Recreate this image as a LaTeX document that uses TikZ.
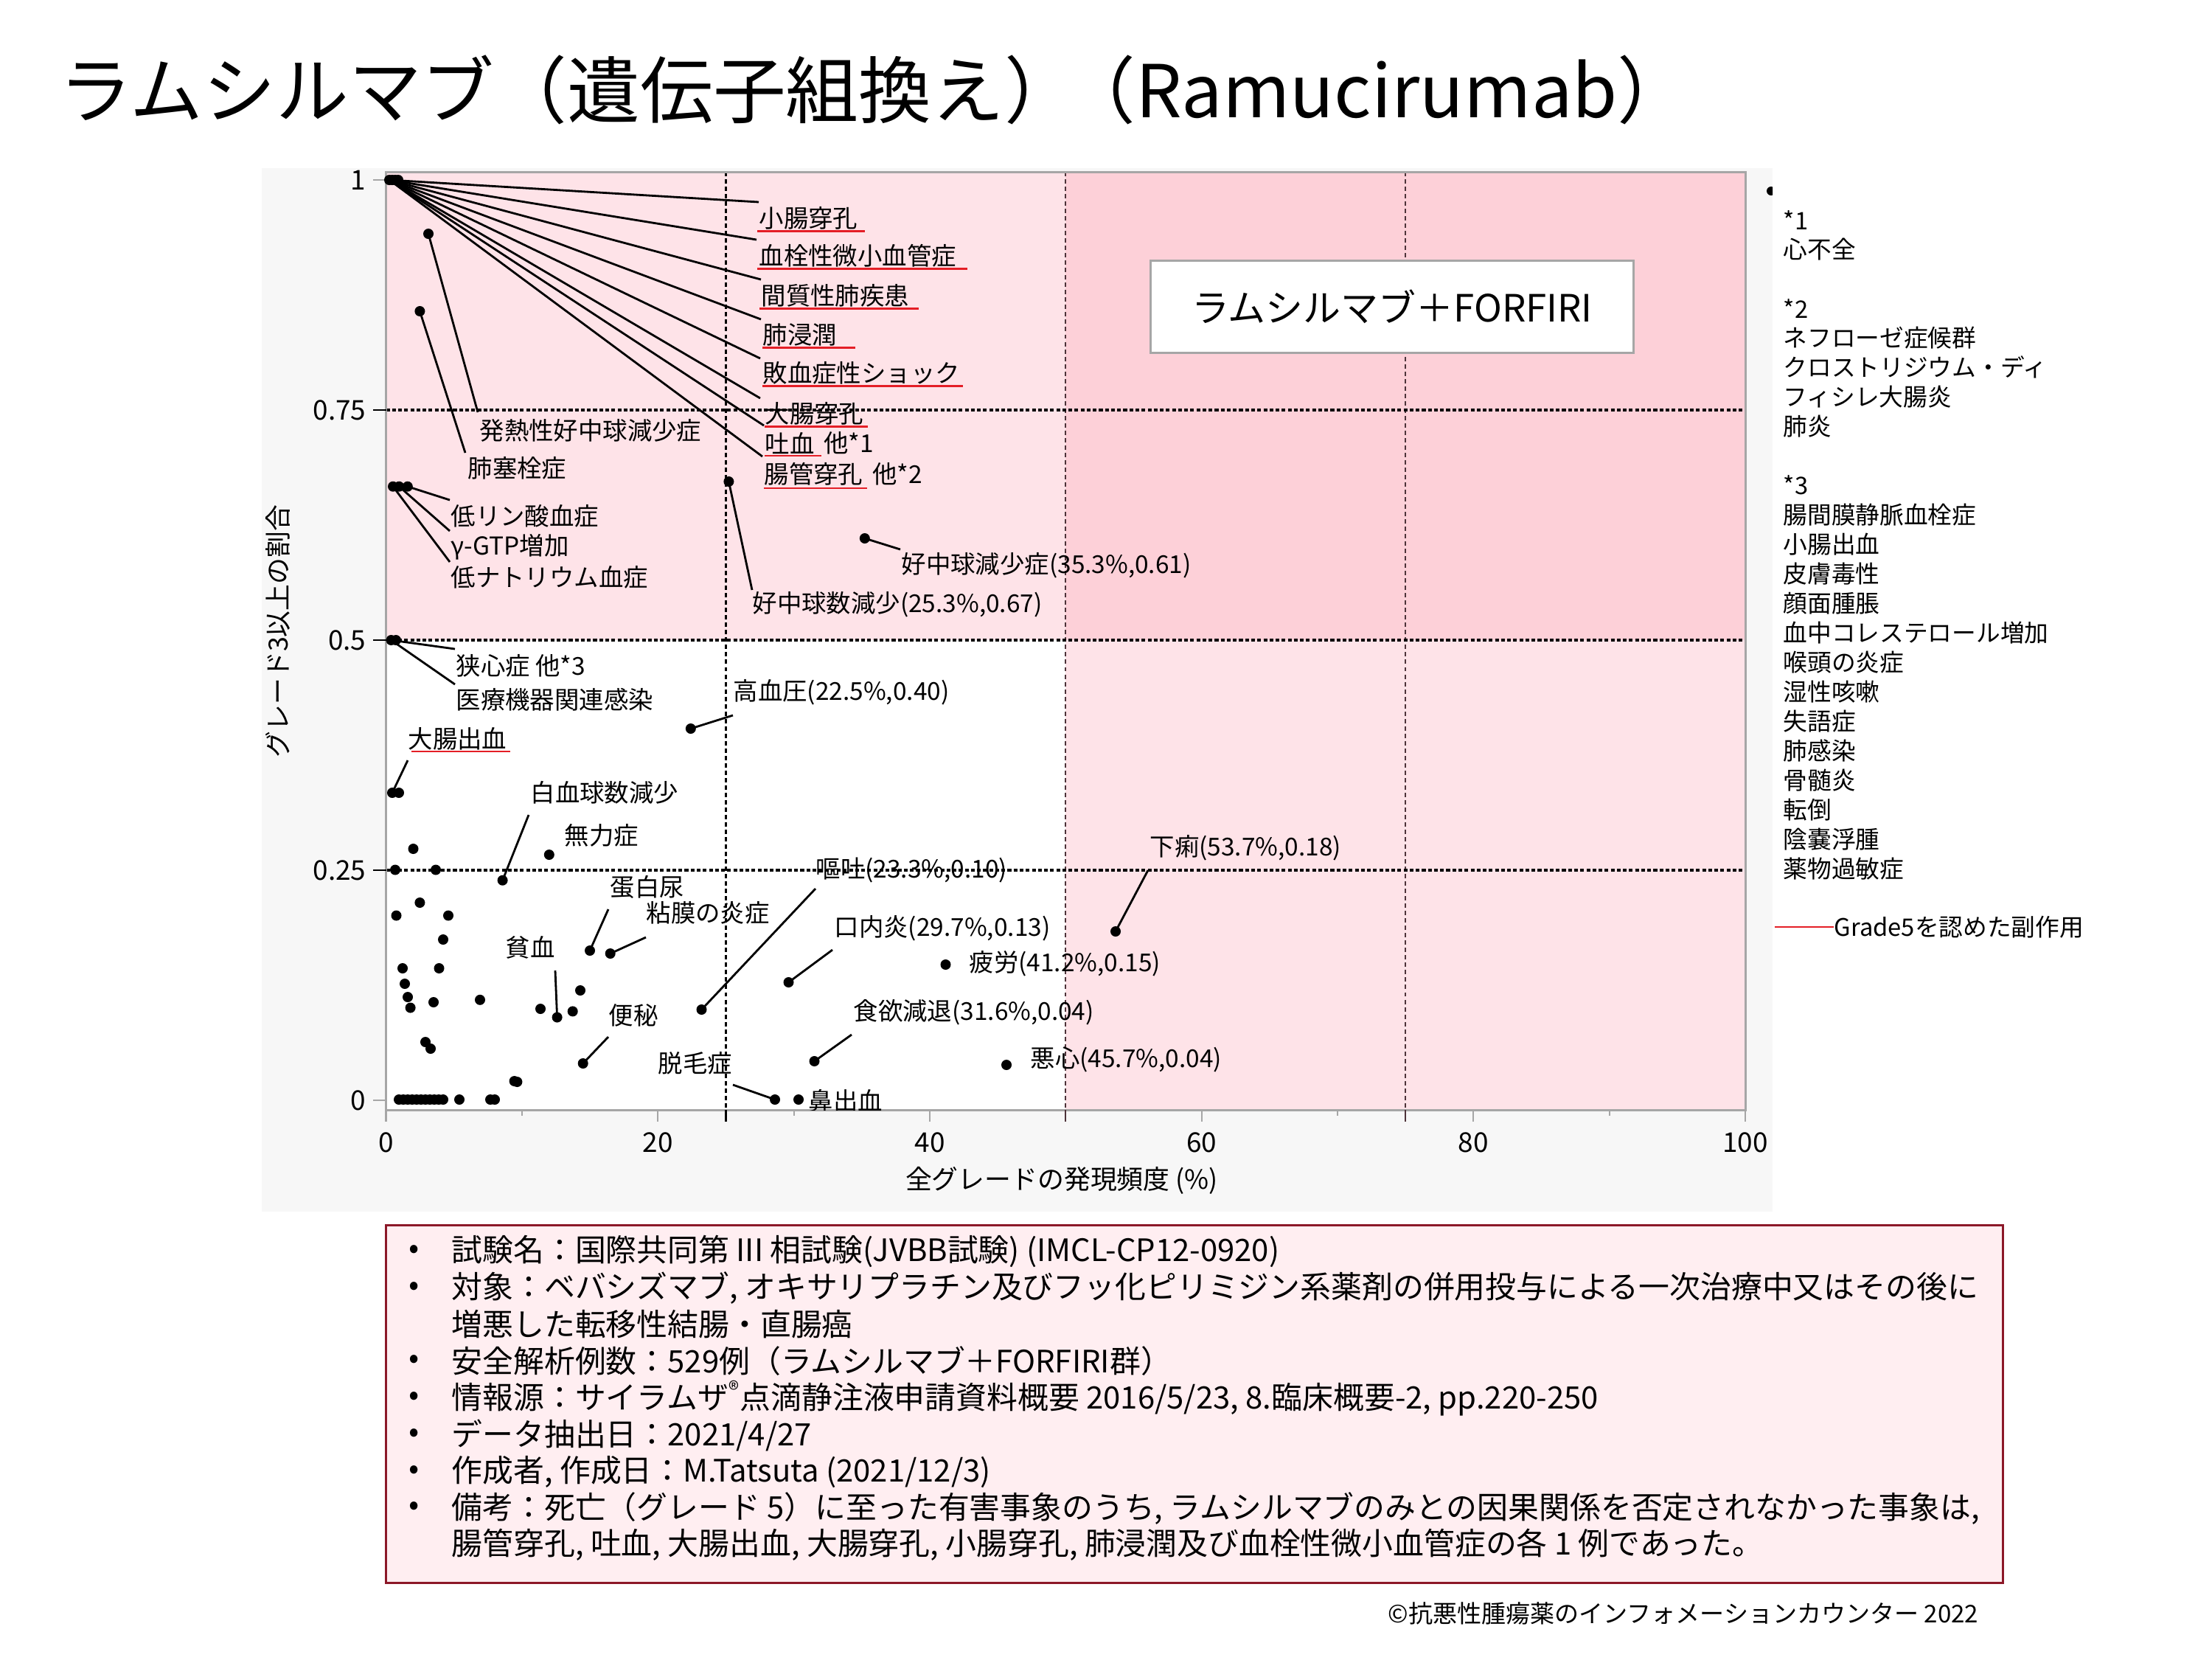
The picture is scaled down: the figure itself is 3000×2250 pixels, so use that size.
\documentclass[tikz,border=0pt]{standalone}
\usepackage{fontspec}
\setmainfont{Noto Sans CJK JP}
\newcommand\myfs[2]{\fontsize{#1}{#2}\selectfont}
\definecolor{panelgray}{RGB}{247,247,247}
\definecolor{pinkA}{RGB}{254,227,232}
\definecolor{pinkB}{RGB}{253,208,216}
\definecolor{framegray}{RGB}{166,166,166}
\definecolor{boxred}{RGB}{140,24,40}
\definecolor{boxfill}{RGB}{255,238,241}
\definecolor{ulred}{RGB}{228,30,38}
\definecolor{refdark}{RGB}{78,52,58}
\begin{document}
\begin{tikzpicture}[x=0.01cm,y=-0.01cm,
  lbl/.style={anchor=west,inner sep=0pt,font=\myfs{9.5}{11}},
  dot/.style={circle,fill=black,draw=none,inner sep=0pt,minimum size=0.14cm},
  conn/.style={line width=0.8pt,black},
  uline/.style={ulred,line width=0.7pt},
  refv/.style={line width=0.65pt,dash pattern=on 1.7pt off 1.15pt},
  refh/.style={line width=0.9pt,black,dash pattern=on 1.45pt off 0.9pt},
  tickg/.style={framegray,line width=0.6pt},
  ticklbl/.style={inner sep=0pt,font=\myfs{10.5}{12}},
  leg/.style={anchor=west,inner sep=0pt,font=\myfs{9.3}{11}},
  boxtxt/.style={anchor=west,inner sep=0pt,font=\myfs{11.9}{14}},
  bul/.style={inner sep=0pt,font=\myfs{11.9}{14}}]
\useasboundingbox (0,0) rectangle (3000,2250);
\fill[white] (0,0) rectangle (3000,2250);
% panel and regions
\fill[panelgray] (355,228) rectangle (2404,1643);
\fill[white] (523.5,233) rectangle (2367,1505);
\fill[pinkA] (523.5,233) rectangle (1445.3,868);
\fill[pinkA] (1445.3,868) rectangle (2367,1505);
\fill[pinkB] (1445.3,233) rectangle (2367,868);
% reference lines
\draw[refv,black] (984.4,233) -- (984.4,1505);
\draw[refv,refdark] (1445.3,233) -- (1445.3,1505);
\draw[refv,refdark] (1906,233) -- (1906,1505);
\draw[refh] (523.5,556) -- (2367,556);
\draw[refh] (523.5,868) -- (2367,868);
\draw[refh] (523.5,1180) -- (2367,1180);
% frame
\draw[framegray,line width=0.85pt] (523.5,233) rectangle (2367,1505);
% ticks
\draw[tickg] (506,244) -- (523.5,244);
\draw[tickg] (506,1492) -- (523.5,1492);
\foreach \yy in {556,868,1180} \draw[black,line width=0.8pt] (506,\yy) -- (523.5,\yy);
\foreach \xx in {523.5,892.2,1261,1629.6,1998.3,2367} \draw[tickg] (\xx,1505) -- (\xx,1521);
\foreach \xx in {707.9,1076.6,1813.9,2182.6} \draw[tickg] (\xx,1505) -- (\xx,1513);
\draw[black,line width=0.65pt] (984.4,1505) -- (984.4,1521);
\draw[refdark,line width=0.65pt] (1445.3,1505) -- (1445.3,1521);
\draw[refdark,line width=0.65pt] (1906,1505) -- (1906,1521);
\node[ticklbl,anchor=east] (ty1) at (497,244) {1};
\node[ticklbl,anchor=east] (ty2) at (497,556) {0.75};
\node[ticklbl,anchor=east] (ty3) at (497,868) {0.5};
\node[ticklbl,anchor=east] (ty4) at (497,1180) {0.25};
\node[ticklbl,anchor=east] (ty5) at (497,1492) {0};
\node[ticklbl] (tx1) at (523.5,1549) {0};
\node[ticklbl] (tx2) at (892.2,1549) {20};
\node[ticklbl] (tx3) at (1261,1549) {40};
\node[ticklbl] (tx4) at (1629.6,1549) {60};
\node[ticklbl] (tx5) at (1998.3,1549) {80};
\node[ticklbl] (tx6) at (2367,1549) {100};
\node[inner sep=0pt,font=\myfs{10.2}{12}] (xtitle) at (1440,1601) {全グレードの発現頻度 (\%)};
\node[inner sep=0pt,font=\myfs{10.2}{12},rotate=90] (ytitle) at (377,856) {グレード3以上の割合};
% unlabeled dots
\foreach \xx/\yy [count=\i] in {532/244,536/244,540/244,
  541.3/659.7,552.8/659.7,537/868,541/1075,
  560.5/1151,536/1179.5,591/1179.5,569.4/1224,537.5/1241.5,608/1241.5,601/1274,
  546/1313,595.5/1313,549/1334,553/1352,556.6/1366.5,588/1359,651/1355.8,
  787/1343,733/1368,776.7/1371.4,577/1413,584/1422,697.6/1466,701.4/1467,
  541/1491,547/1491,553/1491,559/1491,565/1491,571/1491,577/1491,583/1491,589/1491,595/1491,601/1491,
  623/1491,665/1491,671/1491}
  \node[dot] (q\i) at (\xx,\yy) {};
% connected dots
\node[dot] (p1) at (528,244) {};
\node[dot] (pFN) at (581,317) {};
\node[dot] (pPE) at (569.4,422) {};
\node[dot] (pL) at (533,659.7) {};
\node[dot] (pNC) at (988.4,653) {};
\node[dot] (pNP) at (1172.8,730) {};
\node[dot] (p5) at (530.5,868) {};
\node[dot] (pLB) at (532,1075) {};
\node[dot] (pHT) at (936.8,988) {};
\node[dot] (pWB) at (681.6,1193.7) {};
\node[dot] (pAS) at (744.8,1159) {};
\node[dot] (pPR) at (800,1289) {};
\node[dot] (pMU) at (827.7,1293) {};
\node[dot] (pAN) at (755.6,1379.5) {};
\node[dot] (pCO) at (790.7,1442) {};
\node[dot] (pAL) at (1051,1491) {};
\node[dot] (pEP) at (1083,1491) {};
\node[dot] (pVO) at (951.5,1369) {};
\node[dot] (pST) at (1069.5,1332) {};
\node[dot] (pAP) at (1104.5,1439) {};
\node[dot] (pFA) at (1282.5,1308) {};
\node[dot] (pNA) at (1365,1444) {};
\node[dot] (pDI) at (1513,1263) {};
% connector ends
\coordinate (e1) at (1029,274);
\coordinate (e2) at (1026,325);
\coordinate (e3) at (1032,379);
\coordinate (e4) at (1032,433);
\coordinate (e5) at (1031,486);
\coordinate (e6) at (1031,540);
\coordinate (e7) at (1036,577);
\coordinate (e8) at (1034,619);
\coordinate (eFN) at (648,559);
\coordinate (ePE) at (631,614);
\coordinate (eL1) at (610,678);
\coordinate (eL2) at (610,720);
\coordinate (eL3) at (610,762);
\coordinate (eNC) at (1020,800);
\coordinate (eNP) at (1221,745);
\coordinate (e51) at (617,880);
\coordinate (e52) at (617,928);
\coordinate (eLB) at (553,1031);
\coordinate (eHT) at (994,970);
\coordinate (eWB) at (717,1105);
\coordinate (ePR) at (825,1233);
\coordinate (eMU) at (876,1271);
\coordinate (eAN) at (753,1316);
\coordinate (eCO) at (825,1406);
\coordinate (eAL) at (994,1471);
\coordinate (eVO) at (1106,1205);
\coordinate (eST) at (1129,1288);
\coordinate (eAP) at (1155,1403);
\coordinate (eDI) at (1557,1180);
\foreach \e in {e1,e2,e3,e4,e5,e6,e7,e8} \draw[conn] (p1.center) -- (\e);
\draw[conn] (pFN.center) -- (eFN);
\draw[conn] (pPE.center) -- (ePE);
\draw[conn] (q5.center) -- (eL1);
\draw[conn] (q4.center) -- (eL2);
\draw[conn] (pL.center) -- (eL3);
\draw[conn] (pNC.center) -- (eNC);
\draw[conn] (pNP.center) -- (eNP);
\draw[conn] (p5.center) -- (e51);
\draw[conn] (p5.center) -- (e52);
\draw[conn] (pLB.center) -- (eLB);
\draw[conn] (pHT.center) -- (eHT);
\draw[conn] (pWB.center) -- (eWB);
\draw[conn] (pPR.center) -- (ePR);
\draw[conn] (pMU.center) -- (eMU);
\draw[conn] (pAN.center) -- (eAN);
\draw[conn] (pCO.center) -- (eCO);
\draw[conn] (pAL.center) -- (eAL);
\draw[conn] (pVO.center) -- (eVO);
\draw[conn] (pST.center) -- (eST);
\draw[conn] (pAP.center) -- (eAP);
\draw[conn] (pDI.center) -- (eDI);
% labels
\node[lbl] (l1) at (1029,296) {小腸穿孔};
\node[lbl] (l2) at (1029,347) {血栓性微小血管症};
\node[lbl] (l3) at (1032,401) {間質性肺疾患};
\node[lbl] (l4) at (1034,454) {肺浸潤};
\node[lbl] (l5) at (1034,506) {敗血症性ショック};
\node[lbl] (l6) at (1037,561) {大腸穿孔};
\node[lbl] (l7) at (1037,601) {吐血};
\node[lbl] (l7b) at ([xshift=3.2pt]l7.east) {他*1};
\node[lbl] (l8) at (1036,643) {腸管穿孔};
\node[lbl] (l8b) at ([xshift=3.2pt]l8.east) {他*2};
\draw[uline] ([xshift=-0.5pt,yshift=-0.4pt]l1.south west) -- ([xshift=2.5pt,yshift=-0.4pt]l1.south east);
\draw[uline] ([xshift=-0.5pt,yshift=-0.4pt]l2.south west) -- ([xshift=4pt,yshift=-0.4pt]l2.south east);
\draw[uline] ([xshift=-0.5pt,yshift=-0.4pt]l3.south west) -- ([xshift=3.5pt,yshift=-0.4pt]l3.south east);
\draw[uline] ([xshift=0pt,yshift=-0.4pt]l4.south west) -- ([xshift=7pt,yshift=-0.4pt]l4.south east);
\draw[uline] ([xshift=0pt,yshift=-0.4pt]l5.south west) -- ([xshift=1pt,yshift=-0.4pt]l5.south east);
\draw[uline] ([xshift=0pt,yshift=-0.4pt]l6.south west) -- ([xshift=1.5pt,yshift=-0.4pt]l6.south east);
\draw[uline] ([xshift=0pt,yshift=-0.4pt]l7.south west) -- ([xshift=2.5pt,yshift=-0.4pt]l7.south east);
\draw[uline] ([xshift=0pt,yshift=-0.8pt]l8.south west) -- ([xshift=1.5pt,yshift=-0.8pt]l8.south east);
\node[lbl] (lFN) at (650,584) {発熱性好中球減少症};
\node[lbl] (lPE) at (634,635) {肺塞栓症};
\node[lbl] (lL1) at (611,700) {低リン酸血症};
\node[lbl] (lL2) at (611,742) {γ-GTP増加};
\node[lbl] (lL3) at (611,783) {低ナトリウム血症};
\node[lbl] (lNC) at (1020,820) {好中球数減少(25.3\%,0.67)};
\node[lbl] (lNP) at (1222,767) {好中球減少症(35.3\%,0.61)};
\node[lbl] (l51) at (618,903) {狭心症 他*3};
\node[lbl] (l52) at (618,949) {医療機器関連感染};
\node[lbl] (lLB) at (553,1002) {大腸出血};
\draw[uline] ([xshift=1.5pt,yshift=-0.2pt]lLB.south west) -- ([xshift=1pt,yshift=-0.2pt]lLB.south east);
\node[lbl] (lHT) at (994,939) {高血圧(22.5\%,0.40)};
\node[lbl] (lWB) at (719,1075) {白血球数減少};
\node[lbl] (lAS) at (765,1133) {無力症};
\node[lbl] (lPR) at (827,1203) {蛋白尿};
\node[lbl] (lMU) at (876,1238) {粘膜の炎症};
\node[lbl] (lAN) at (685,1285) {貧血};
\node[lbl] (lCO) at (825,1377) {便秘};
\node[lbl] (lAL) at (892,1442) {脱毛症};
\begin{scope}
\clip (523.5,233) rectangle (2367,1505);
\node[lbl] (lEP) at (1096,1493) {鼻出血};
\end{scope}
\node[lbl] (lVO) at (1106,1180) {嘔吐(23.3\%,0.10)};
\node[lbl] (lST) at (1131,1259) {口内炎(29.7\%,0.13)};
\node[lbl] (lAP) at (1157,1373) {食欲減退(31.6\%,0.04)};
\node[lbl] (lFA) at (1314,1307) {疲労(41.2\%,0.15)};
\node[lbl] (lNA) at (1397,1437) {悪心(45.7\%,0.04)};
\node[lbl] (lDI) at (1559,1150) {下痢(53.7\%,0.18)};
% FORFIRI box
\node[draw=framegray,fill=white,line width=0.85pt,minimum width=6.55cm,minimum height=1.24cm,inner sep=0pt,font=\myfs{14.5}{17}] (arm) at (1888,416) {ラムシルマブ＋FORFIRI};
% legend
\begin{scope}
\clip (355,228) rectangle (2404,1643);
\node[dot,minimum size=0.12cm] (legdot) at (2402,259) {};
\end{scope}
\foreach \i/\t in {0/*1,1/心不全,3/*2,4/ネフローゼ症候群,5/クロストリジウム・ディ,6/フィシレ大腸炎,7/肺炎,
  9/*3,10/腸間膜静脈血栓症,11/小腸出血,12/皮膚毒性,13/顔面腫脹,14/血中コレステロール増加,15/喉頭の炎症,
  16/湿性咳嗽,17/失語症,18/肺感染,19/骨髄炎,20/転倒,21/陰嚢浮腫,22/薬物過敏症}
  \node[leg] (leg\i) at (2418,298+40*\i) {\t};
\coordinate (gl) at (2407,1257);
\node[leg] (g5) at (2487,1257) {Grade5を認めた副作用};
\draw[ulred,line width=0.6pt] (gl) -- (g5.west);
% bottom box
\node[draw=boxred,fill=boxfill,line width=0.9pt,minimum width=21.92cm,minimum height=4.84cm,inner sep=0pt] (info) at (1620,1904) {};
\foreach \i/\yy in {1/1697,2/1747,4/1846,5/1896,6/1946,7/1996,8/2045}
  \node[bul] (u\i) at (562,\yy) {•};
\node[boxtxt] (b1) at (612,1697) {試験名：国際共同第 III 相試験(JVBB試験) (IMCL-CP12-0920)};
\node[boxtxt] (b2) at (612,1747) {対象：ベバシズマブ, オキサリプラチン及びフッ化ピリミジン系薬剤の併用投与による一次治療中又はその後に};
\node[boxtxt] (b3) at (612,1796) {増悪した転移性結腸・直腸癌};
\node[boxtxt] (b4) at (612,1846) {安全解析例数：529例（ラムシルマブ＋FORFIRI群）};
\node[boxtxt] (b5) at (612,1896) {情報源：サイラムザ\textsuperscript{®}点滴静注液申請資料概要 2016/5/23, 8.臨床概要-2, pp.220-250};
\node[boxtxt] (b6) at (612,1946) {データ抽出日：2021/4/27};
\node[boxtxt] (b7) at (612,1996) {作成者, 作成日：M.Tatsuta (2021/12/3)};
\node[boxtxt] (b8) at (612,2045) {備考：死亡（グレード 5）に至った有害事象のうち, ラムシルマブのみとの因果関係を否定されなかった事象は,};
\node[boxtxt] (b9) at (612,2095) {腸管穿孔, 吐血, 大腸出血, 大腸穿孔, 小腸穿孔, 肺浸潤及び血栓性微小血管症の各 1 例であった。};
% title and copyright
\node[anchor=west,inner sep=0pt,font=\myfs{28.1}{33}] (title) at (80,122) {ラムシルマブ（遺伝子組換え）\kern-0.2em（Ramucirumab）};
\node[anchor=east,inner sep=0pt,font=\myfs{9.4}{11}] (copy) at (2684,2188) {©抗悪性腫瘍薬のインフォメーションカウンター 2022};
\end{tikzpicture}
\end{document}
